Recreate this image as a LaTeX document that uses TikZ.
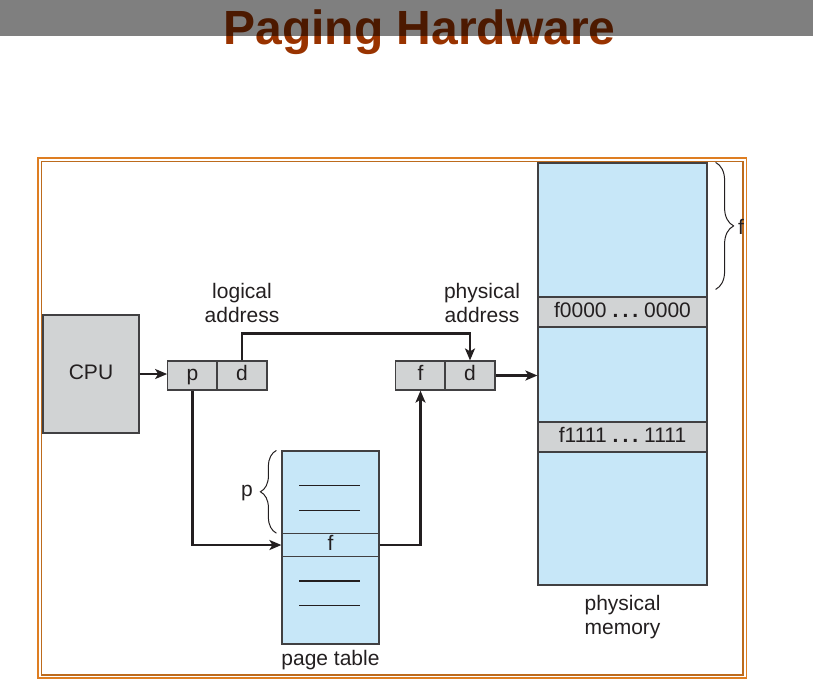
\documentclass[tikz,border=0pt]{standalone}
\usepackage{fontspec}
\setmainfont{Liberation Sans}
\usetikzlibrary{calc,arrows.meta,decorations.pathreplacing}

\definecolor{memblue}{HTML}{C7E7F8}
\definecolor{reggray}{HTML}{D1D3D4}
\definecolor{edge}{HTML}{414042}
\definecolor{ink}{HTML}{231F20}
\definecolor{frameorange}{HTML}{DE7E22}
\definecolor{titlebrown}{HTML}{993300}

\begin{document}
\begin{tikzpicture}[x=0.5pt,y=-0.5pt,
	lbl/.style={align=center,text=ink,font=\fontsize{10.5}{12}\selectfont},
	box/.style={lbl,draw=edge,line width=0.6pt,inner sep=0pt,text height=7.6pt,text depth=2.2pt},
	graybox/.style={box,fill=reggray},
	bluebox/.style={box,fill=memblue},
	arr/.style={line width=1.1pt,draw=ink,-{Stealth[length=6pt,width=5pt,inset=1.5pt]}},
	brc/.style={draw=ink,line width=0.5pt,decorate,decoration={brace,amplitude=#1}}
	]
	\def\px{0.5pt}
	\def\dots{\hspace{3pt}\textbf{.\hspace{2pt}.\hspace{2pt}.}\hspace{3pt}}
	\useasboundingbox (0,0) rectangle (813,693);
	
	%TITLE
	\node[anchor=base,text=titlebrown,font=\fontsize{24}{28}\selectfont\bfseries] (title) at (419.5,44) {Paging Hardware};
	\fill[black,opacity=0.5] (0,0) rectangle (813,36);
	
	%FRAME
	\draw[frameorange,line width=0.9pt] (38,158) rectangle (746.5,678);
	\draw[frameorange!85!black,line width=0.6pt] (41.5,161.5) rectangle (743,675);
	
	%CPU AND ADDRESSES
	\node[graybox,minimum width=96*\px,minimum height=118*\px] (cpu) at (91,374) {CPU};
	\node[graybox,minimum width=49.5*\px,minimum height=29*\px] (p) at (192.5,375.5) {p};
	\node[graybox,minimum width=50*\px,minimum height=29*\px] (d) at (242,375.5) {d};
	\node[graybox,minimum width=49.5*\px,minimum height=29*\px] (f) at (420.5,375.5) {f};
	\node[graybox,minimum width=50*\px,minimum height=29*\px] (d2) at (470,375.5) {d};
	\node[lbl] (logical) at (242,303) {logical\\address};
	\node[lbl] (physical) at (482,303) {physical\\address};
	
	%PHYSICAL MEMORY
	\node[bluebox,minimum width=169*\px,minimum height=422*\px] (mem) at (622.5,374) {};
	\node[graybox,minimum width=169*\px,minimum height=30*\px] (frame0) at (622.5,312) {f0000\dots0000};
	\node[graybox,minimum width=169*\px,minimum height=30*\px] (frame1) at (622.5,437) {f1111\dots1111};
	\node[lbl] (memlabel) at (622.5,617) {physical\\memory};
	\draw[brc=9pt] ($(mem.north east)+(8,0)$) -- ($(frame0.north east)+(8,-7)$);
	\node[lbl] (flabel) at (741,227) {f};
	
	%PAGE TABLE
	\node[bluebox,minimum width=97*\px,minimum height=193*\px] (table) at (330.5,547.5) {};
	\node[box,minimum width=97*\px,minimum height=22.5*\px] (entry) at (330.5,545) {f};
	\foreach \y in {485.5,510.5,581,605.5}
		\draw[ink,line width=0.6pt] (299,\y) -- (360,\y);
	\node[lbl] (tablelabel) at (330.5,660) {page table};
	\draw[brc=8pt] ($(entry.north west)+(-5,0)$) -- ($(table.north west)+(-5,0)$);
	\node[lbl] (plabel) at (247,493) {p};
	
	%ARROWS
	\draw[arr] (cpu.east) -- (cpu.east -| p.west);
	\draw[arr] (d.north) -- ++(0,-27) -| (d2.north);
	\draw[arr] (d2.east) -- (d2.east -| mem.west);
	\draw[arr] (p.south) |- (entry.west);
	\draw[arr] (entry.east) -| (f.south);
\end{tikzpicture}
\end{document}
